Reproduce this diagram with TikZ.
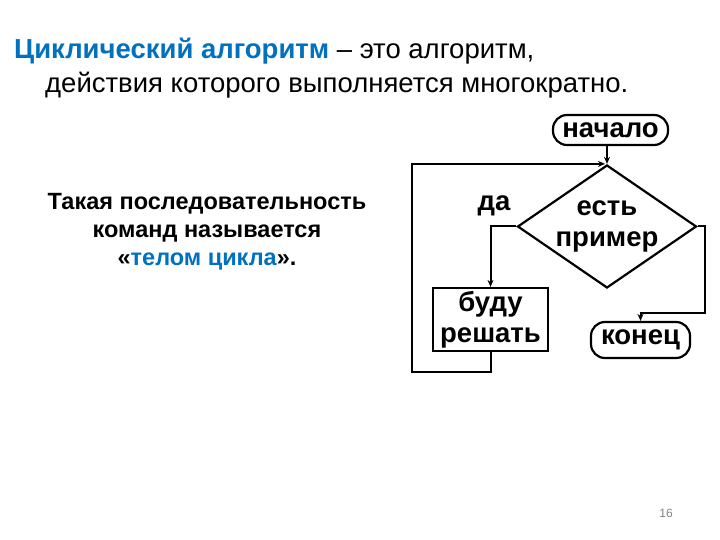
\documentclass[tikz,border=0pt]{standalone}
\usepackage{fontspec}
\setmainfont{Liberation Sans}
\usetikzlibrary{shapes.geometric,arrows.meta}
\definecolor{titleblue}{RGB}{0,112,192}
\begin{document}
\begin{tikzpicture}[x=1pt,y=-1pt,
    flow/.style={draw,line width=2.2pt,font=\fontsize{27.5}{31}\selectfont\bfseries,align=center},
    terminal/.style={flow,rounded corners=14pt,minimum height=30pt,inner ysep=0pt,inner xsep=6pt},
    link/.style={line width=2pt},
    tip/.style={link,-{Stealth[length=7pt,width=6pt]}}]
  \useasboundingbox (0,0) rectangle (720,540);
  % heading
  \node[anchor=base west,inner sep=0pt,font=\fontsize{27.5}{30}\selectfont] (head1) at (14,59)
    {\textcolor{titleblue}{\bfseries Циклический алгоритм} – это алгоритм,};
  \node[anchor=base west,inner sep=0pt,font=\fontsize{27.5}{30}\selectfont] (head2) at (45,93)
    {действия которого выполняется многократно.};
  \node[align=center,font=\fontsize{23.5}{28}\selectfont\bfseries] (note) at (207,232)
    {Такая последовательность\\команд называется\\«\textcolor{titleblue}{телом цикла}».};
  % flowchart
  \draw
    (610.5,130) node[terminal,minimum width=115pt] (start){начало}
    (607,226.5) node[flow,diamond,inner sep=0pt,minimum width=179pt,minimum height=123pt,aspect=1.455] (cond){есть\\пример}
    (490.5,319.5) node[flow,minimum width=115pt,minimum height=63pt,inner sep=0pt] (body){буду\\решать}
    (640.5,340) node[terminal,minimum width=99pt,minimum height=36pt] (finish){конец};
  \node[font=\fontsize{27.5}{30}\selectfont\bfseries] (yes) at (494,206) {да};
  \coordinate (entry) at (cond.north);
  \coordinate (loopcorner) at (412,372);
  \coordinate (rbend) at (705,313);
  \begin{scope}
    \draw[tip] (start.south -| entry) -- (entry);
    \draw[tip] (cond.west) -| (body.north);
    \draw[tip] (cond.east) -| (rbend) -| (finish.north);
    \draw[tip] (body.south) |- (loopcorner) |- ([xshift=-2pt]entry);
  \end{scope}
  \node[text=gray,font=\fontsize{12}{14}\selectfont] (page) at (666,513) {16};
\end{tikzpicture}
\end{document}
